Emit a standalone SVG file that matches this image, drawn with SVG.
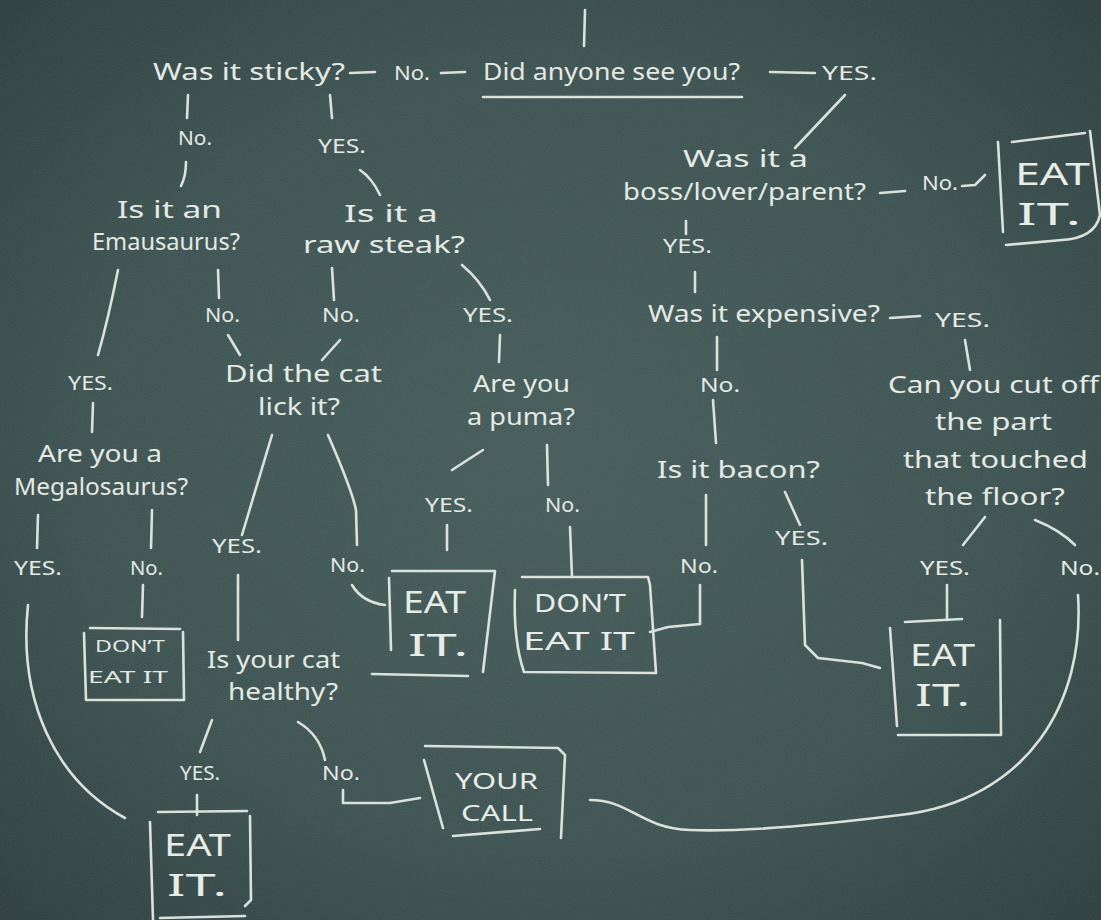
<svg xmlns="http://www.w3.org/2000/svg" width="1101" height="920" viewBox="0 0 1101 920">
<defs>
<radialGradient id="bg" cx="50%" cy="50%" r="70%">
<stop offset="0" stop-color="#445b5a"/>
<stop offset="0.6" stop-color="#3b5150"/>
<stop offset="1" stop-color="#2c3d3d"/>
</radialGradient>
<filter id="noise" x="0" y="0" width="100%" height="100%">
<feTurbulence type="fractalNoise" baseFrequency="0.9" numOctaves="2" seed="3"/>
<feColorMatrix type="matrix" values="0 0 0 0 0.8  0 0 0 0 0.85  0 0 0 0 0.85  0 0 0 0.08 0"/>
</filter>
<style>
.t{font-family:"Noto Sans","DejaVu Sans",sans-serif;fill:#e4e9e3;font-size:23px}
.l{font-family:"Noto Sans","DejaVu Sans",sans-serif;fill:#e4e9e3;font-size:20px}
.b{font-family:"Noto Sans","DejaVu Sans",sans-serif;fill:#e8ece7;font-size:31px}
.m{font-family:"Noto Sans","DejaVu Sans",sans-serif;fill:#e8ece7;font-size:26px}
.y{font-family:"Noto Sans","DejaVu Sans",sans-serif;fill:#e8ece7;font-size:22px}
.k{fill:none;stroke:#dbe2dc;stroke-width:2.6;stroke-linecap:round;stroke-linejoin:round}
</style>
</defs>
<rect width="1101" height="920" fill="url(#bg)"/>
<rect width="1101" height="920" filter="url(#noise)"/>

<g id="connectors" class="k">
<path d="M585 10 L584 46"/>
<path d="M350 73 L375 72"/>
<path d="M441 73 L465 72"/>
<path d="M770 72 L815 73"/>
<path d="M188 95 L187 118"/>
<path d="M330 95 L332 118"/>
<path d="M186 162 Q186 176 181 186"/>
<path d="M360 170 Q372 178 380 195"/>
<path d="M845 95 L795 148"/>
<path d="M880 193 L905 191"/>
<path d="M962 186 L975 185 L985 175"/>
<path d="M686 221 L686 234"/>
<path d="M695 272 L695 292"/>
<path d="M890 318 L920 316"/>
<path d="M717 337 L717 370"/>
<path d="M713 400 L716 443"/>
<path d="M965 340 L970 370"/>
<path d="M118 270 Q108 320 98 355"/>
<path d="M218 270 L219 298"/>
<path d="M332 268 L334 300"/>
<path d="M462 265 Q480 280 490 300"/>
<path d="M228 335 L240 355"/>
<path d="M340 340 L322 360"/>
<path d="M500 335 L499 362"/>
<path d="M93 403 L92 432"/>
<path d="M272 435 L242 535"/>
<path d="M328 435 Q352 490 356 510 L357 545"/>
<path d="M483 450 L452 470"/>
<path d="M547 445 L548 485"/>
<path d="M706 495 L706 545"/>
<path d="M785 492 L800 525"/>
<path d="M985 517 L963 545"/>
<path d="M1035 520 Q1060 530 1075 545"/>
<path d="M38 515 L37 548"/>
<path d="M152 510 L151 548"/>
<path d="M143 585 L142 617"/>
<path d="M447 525 L447 550"/>
<path d="M570 527 L572 577"/>
<path d="M352 585 Q362 602 385 605"/>
<path d="M238 575 L238 640"/>
<path d="M700 585 L700 624 L668 627 L650 632"/>
<path d="M802 560 L805 645 L818 658 L862 663 L880 668"/>
<path d="M947 585 L947 620"/>
<path d="M212 720 L200 752"/>
<path d="M298 722 Q320 735 325 760"/>
<path d="M197 795 L197 815"/>
<path d="M343 790 L343 803 L390 803 L420 798"/>
<path d="M28 605 C18 700 55 780 125 818"/>
<path d="M1078 595 C1085 700 1030 800 900 815 C820 825 740 832 690 830 C640 828 630 800 590 800"/>
</g>

<g id="n-sticky"><text class="t" x="153" y="80" textLength="192" lengthAdjust="spacingAndGlyphs">Was it sticky?</text></g>
<g id="l-no-sticky-seen"><text class="l" x="394" y="80" textLength="36" lengthAdjust="spacingAndGlyphs">No.</text></g>
<g id="n-seen"><text class="t" x="483" y="80" textLength="257" lengthAdjust="spacingAndGlyphs">Did anyone see you?</text><path class="k" d="M483 97 L742 97"/></g>
<g id="l-yes-seen"><text class="l" x="822" y="80" textLength="55" lengthAdjust="spacingAndGlyphs">YES.</text></g>

<g id="n-boss"><text class="t" x="683" y="167" textLength="125" lengthAdjust="spacingAndGlyphs">Was it a</text><text class="t" x="623" y="200" textLength="243" lengthAdjust="spacingAndGlyphs">boss/lover/parent?</text></g>
<g id="l-no-boss"><text class="l" x="922" y="190" textLength="36" lengthAdjust="spacingAndGlyphs">No.</text></g>
<g id="n-eat-top"><path class="k" d="M998 142 L1003 232 M1012 142 L1085 133 M1090 131 L1100 215 Q1095 238 1062 240 L1006 245"/><text class="b" x="1015" y="185" textLength="75" lengthAdjust="spacingAndGlyphs">EAT</text><text class="b" x="1017" y="225" textLength="64" lengthAdjust="spacingAndGlyphs">IT.</text></g>
<g id="l-yes-boss"><text class="l" x="663" y="253" textLength="49" lengthAdjust="spacingAndGlyphs">YES.</text></g>

<g id="n-expensive"><text class="t" x="648" y="322" textLength="232" lengthAdjust="spacingAndGlyphs">Was it expensive?</text></g>
<g id="l-yes-exp"><text class="l" x="935" y="327" textLength="55" lengthAdjust="spacingAndGlyphs">YES.</text></g>
<g id="l-no-exp"><text class="l" x="700" y="392" textLength="40" lengthAdjust="spacingAndGlyphs">No.</text></g>
<g id="n-bacon"><text class="t" x="657" y="478" textLength="163" lengthAdjust="spacingAndGlyphs">Is it bacon?</text></g>
<g id="l-no-bacon"><text class="l" x="680" y="573" textLength="38" lengthAdjust="spacingAndGlyphs">No.</text></g>
<g id="l-yes-bacon"><text class="l" x="775" y="545" textLength="53" lengthAdjust="spacingAndGlyphs">YES.</text></g>

<g id="n-cut"><text class="t" x="888" y="393" textLength="211" lengthAdjust="spacingAndGlyphs">Can you cut off</text><text class="t" x="935" y="430" textLength="117" lengthAdjust="spacingAndGlyphs">the part</text><text class="t" x="903" y="468" textLength="185" lengthAdjust="spacingAndGlyphs">that touched</text><text class="t" x="925" y="505" textLength="140" lengthAdjust="spacingAndGlyphs">the floor?</text></g>
<g id="l-yes-cut"><text class="l" x="920" y="575" textLength="50" lengthAdjust="spacingAndGlyphs">YES.</text></g>
<g id="l-no-cut"><text class="l" x="1060" y="575" textLength="40" lengthAdjust="spacingAndGlyphs">No.</text></g>
<g id="n-eat-right"><path class="k" d="M890 628 L897 726 M905 622 L962 619 M1000 620 L1001 735 L898 735"/><text class="b" x="910" y="666" textLength="65" lengthAdjust="spacingAndGlyphs">EAT</text><text class="b" x="915" y="706" textLength="55" lengthAdjust="spacingAndGlyphs">IT.</text></g>

<g id="l-no-sticky"><text class="l" x="178" y="145" textLength="34" lengthAdjust="spacingAndGlyphs">No.</text></g>
<g id="l-yes-sticky"><text class="l" x="318" y="153" textLength="48" lengthAdjust="spacingAndGlyphs">YES.</text></g>
<g id="n-emau"><text class="t" x="117" y="218" textLength="105" lengthAdjust="spacingAndGlyphs">Is it an</text><text class="t" x="92" y="250" textLength="148" lengthAdjust="spacingAndGlyphs">Emausaurus?</text></g>
<g id="n-steak"><text class="t" x="344" y="222" textLength="94" lengthAdjust="spacingAndGlyphs">Is it a</text><text class="t" x="303" y="253" textLength="162" lengthAdjust="spacingAndGlyphs">raw steak?</text></g>
<g id="l-yes-emau"><text class="l" x="68" y="390" textLength="45" lengthAdjust="spacingAndGlyphs">YES.</text></g>
<g id="l-no-emau"><text class="l" x="205" y="322" textLength="35" lengthAdjust="spacingAndGlyphs">No.</text></g>
<g id="l-no-steak"><text class="l" x="322" y="322" textLength="38" lengthAdjust="spacingAndGlyphs">No.</text></g>
<g id="l-yes-steak"><text class="l" x="463" y="322" textLength="50" lengthAdjust="spacingAndGlyphs">YES.</text></g>

<g id="n-mega"><text class="t" x="38" y="462" textLength="124" lengthAdjust="spacingAndGlyphs">Are you a</text><text class="t" x="14" y="495" textLength="174" lengthAdjust="spacingAndGlyphs">Megalosaurus?</text></g>
<g id="n-lick"><text class="t" x="225" y="382" textLength="157" lengthAdjust="spacingAndGlyphs">Did the cat</text><text class="t" x="258" y="415" textLength="82" lengthAdjust="spacingAndGlyphs">lick it?</text></g>
<g id="n-puma"><text class="t" x="473" y="392" textLength="97" lengthAdjust="spacingAndGlyphs">Are you</text><text class="t" x="467" y="425" textLength="108" lengthAdjust="spacingAndGlyphs">a puma?</text></g>
<g id="l-yes-mega"><text class="l" x="14" y="575" textLength="48" lengthAdjust="spacingAndGlyphs">YES.</text></g>
<g id="l-no-mega"><text class="l" x="130" y="575" textLength="33" lengthAdjust="spacingAndGlyphs">No.</text></g>
<g id="n-dont-left"><path class="k" d="M84 633 L86 700 L184 700 L183 632 M90 628 L180 629"/><text class="l" x="95" y="652" textLength="70" lengthAdjust="spacingAndGlyphs" style="font-size:17px">DON’T</text><text class="l" x="88" y="683" textLength="80" lengthAdjust="spacingAndGlyphs" style="font-size:17px">EAT IT</text></g>
<g id="l-yes-lick"><text class="l" x="212" y="553" textLength="50" lengthAdjust="spacingAndGlyphs">YES.</text></g>
<g id="l-no-lick"><text class="l" x="330" y="572" textLength="35" lengthAdjust="spacingAndGlyphs">No.</text></g>
<g id="l-yes-puma"><text class="l" x="425" y="512" textLength="48" lengthAdjust="spacingAndGlyphs">YES.</text></g>
<g id="l-no-puma"><text class="l" x="545" y="512" textLength="35" lengthAdjust="spacingAndGlyphs">No.</text></g>

<g id="n-eat-mid"><path class="k" d="M389 578 L391 650 M392 571 L495 571 L483 672 M372 674 L468 676"/><text class="b" x="403" y="613" textLength="63" lengthAdjust="spacingAndGlyphs">EAT</text><text class="b" x="408" y="656" textLength="60" lengthAdjust="spacingAndGlyphs">IT.</text></g>
<g id="n-dont-mid"><path class="k" d="M515 590 Q513 640 524 672 L656 673 L650 585 L648 577 L522 577"/><text class="m" x="534" y="612" textLength="92" lengthAdjust="spacingAndGlyphs">DON’T</text><text class="m" x="523" y="650" textLength="112" lengthAdjust="spacingAndGlyphs">EAT IT</text></g>

<g id="n-healthy"><text class="t" x="207" y="668" textLength="133" lengthAdjust="spacingAndGlyphs">Is your cat</text><text class="t" x="228" y="700" textLength="110" lengthAdjust="spacingAndGlyphs">healthy?</text></g>
<g id="l-yes-healthy"><text class="l" x="180" y="780" textLength="40" lengthAdjust="spacingAndGlyphs">YES.</text></g>
<g id="l-no-healthy"><text class="l" x="322" y="780" textLength="38" lengthAdjust="spacingAndGlyphs">No.</text></g>
<g id="n-eat-bottom"><path class="k" d="M150 822 L153 920 M158 812 L247 811 M250 816 L251 900 L245 906 M160 918 L245 916"/><text class="b" x="164" y="856" textLength="67" lengthAdjust="spacingAndGlyphs">EAT</text><text class="b" x="167" y="896" textLength="60" lengthAdjust="spacingAndGlyphs">IT.</text></g>
<g id="n-your-call"><path class="k" d="M424 760 L443 828 M425 746 L558 748 L565 755 L561 838 M453 836 L540 829"/><text class="y" x="455" y="789" textLength="83" lengthAdjust="spacingAndGlyphs">YOUR</text><text class="y" x="461" y="821" textLength="72" lengthAdjust="spacingAndGlyphs">CALL</text></g>
</svg>
